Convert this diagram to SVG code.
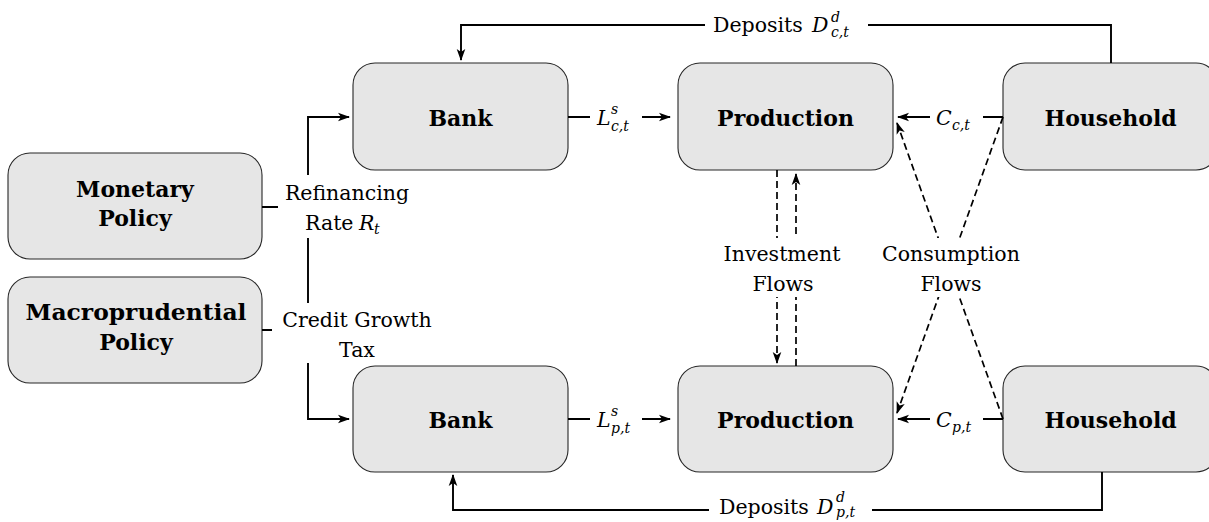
<svg xmlns="http://www.w3.org/2000/svg" width="1209" height="522" viewBox="0 0 1209 522">
<defs>
<marker id="ah" markerWidth="14" markerHeight="12" viewBox="0 -6 14 12" refX="11" refY="0" orient="auto" markerUnits="userSpaceOnUse">
<path d="M0,-4.3 L12,0 L0,4.3 L3,0 Z" fill="#000"/>
</marker>
</defs>
<style>
.box{fill:#e6e6e6;stroke:#262626;stroke-width:1.1}
.bt{font-family:"DejaVu Serif",serif;font-weight:bold;font-size:22px;fill:#000;text-anchor:middle}
.t{font-family:"DejaVu Serif",serif;font-size:20.5px;fill:#000}
.m{text-anchor:middle}
.mi{font-style:italic}
.s{font-size:14px;font-style:italic}
.c{fill:none;stroke:#000;stroke-width:1.9}
.d{fill:none;stroke:#000;stroke-width:1.7;stroke-dasharray:7 4}
.lb{fill:#fff}
</style>
<rect width="1209" height="522" fill="#fff"/>

<g id="monetary">
<rect class="box" x="8" y="153" width="254" height="106" rx="22"/>
<text class="bt" x="135" y="197">Monetary</text>
<text class="bt" x="135" y="226">Policy</text>
</g>
<g id="macroprudential">
<rect class="box" x="8" y="277" width="254" height="106" rx="22"/>
<text class="bt" x="136" y="320" textLength="221" lengthAdjust="spacingAndGlyphs">Macroprudential</text>
<text class="bt" x="136" y="350">Policy</text>
</g>
<g id="bank-c">
<rect class="box" x="353" y="63" width="215" height="107" rx="22"/>
<text class="bt" x="460.5" y="125.5">Bank</text>
</g>
<g id="production-c">
<rect class="box" x="678" y="63" width="215" height="107" rx="22"/>
<text class="bt" x="785.5" y="125.5">Production</text>
</g>
<g id="household-c">
<rect class="box" x="1003" y="63" width="215" height="107" rx="22"/>
<text class="bt" x="1110.5" y="125.5">Household</text>
</g>
<g id="bank-p">
<rect class="box" x="353" y="366" width="215" height="106" rx="22"/>
<text class="bt" x="460.5" y="428">Bank</text>
</g>
<g id="production-p">
<rect class="box" x="678" y="366" width="215" height="106" rx="22"/>
<text class="bt" x="785.5" y="428">Production</text>
</g>
<g id="household-p">
<rect class="box" x="1003" y="366" width="215" height="106" rx="22"/>
<text class="bt" x="1110.5" y="428">Household</text>
</g>

<g id="connectors">
<path class="c" d="M262,207 H308"/>
<path class="c" d="M262,330 H308"/>
<path class="c" d="M308,207 V117 H349" marker-end="url(#ah)"/>
<path class="c" d="M308,207 V419 H349" marker-end="url(#ah)"/>
<path class="c" d="M568,117 H670" marker-end="url(#ah)"/>
<path class="c" d="M568,419 H670" marker-end="url(#ah)"/>
<path class="c" d="M1003,117 H898" marker-end="url(#ah)"/>
<path class="c" d="M1003,419 H898" marker-end="url(#ah)"/>
<path class="c" d="M1111,63 V25 H461 V60" marker-end="url(#ah)"/>
<path class="c" d="M1102,472 V510 H453 V475" marker-end="url(#ah)"/>
<path class="d" d="M777,170 V363" marker-end="url(#ah)"/>
<path class="d" d="M796,366 V174" marker-end="url(#ah)"/>
<path class="d" d="M1003,117 L897,413" marker-end="url(#ah)"/>
<path class="d" d="M1003,419 L897,123" marker-end="url(#ah)"/>

<rect class="lb" x="705" y="11" width="163" height="29"/>
<text class="t"><tspan x="713" y="32">Deposits</tspan><tspan class="mi" x="812" y="32">D</tspan><tspan class="s" x="831" y="22">d</tspan><tspan class="s" x="831" y="37">c,t</tspan></text>
<rect class="lb" x="709" y="494" width="163" height="28"/>
<text class="t"><tspan x="719" y="514">Deposits</tspan><tspan class="mi" x="817" y="514">D</tspan><tspan class="s" x="836" y="502">d</tspan><tspan class="s" x="836" y="517">p,t</tspan></text>

<rect class="lb" x="590" y="100" width="52" height="34"/>
<text class="t"><tspan class="mi" x="597" y="125">L</tspan><tspan class="s" x="611" y="114">s</tspan><tspan class="s" x="611" y="131">c,t</tspan></text>
<rect class="lb" x="590" y="402" width="52" height="34"/>
<text class="t"><tspan class="mi" x="597" y="427">L</tspan><tspan class="s" x="611" y="416">s</tspan><tspan class="s" x="611" y="433">p,t</tspan></text>

<rect class="lb" x="930" y="100" width="53" height="34"/>
<text class="t"><tspan class="mi" x="936" y="124.5">C</tspan><tspan class="s" x="952" y="129.5">c,t</tspan></text>
<rect class="lb" x="930" y="402" width="53" height="34"/>
<text class="t"><tspan class="mi" x="936" y="426.5">C</tspan><tspan class="s" x="952" y="431.5">p,t</tspan></text>

<rect class="lb" x="278" y="175" width="138" height="63"/>
<text class="t m" x="347" y="200">Refinancing</text>
<text class="t"><tspan x="305" y="230">Rate</tspan><tspan class="mi" x="359" y="230">R</tspan><tspan class="s" x="374" y="234">t</tspan></text>

<rect class="lb" x="272" y="303" width="172" height="60"/>
<text class="t m" x="357" y="327">Credit Growth</text>
<text class="t m" x="357" y="357">Tax</text>

<rect class="lb" x="718" y="238" width="128" height="59"/>
<text class="t m" x="782" y="261">Investment</text>
<text class="t m" x="783" y="291">Flows</text>

<rect class="lb" x="875" y="238" width="153" height="59"/>
<text class="t m" x="951" y="261">Consumption</text>
<text class="t m" x="951" y="291">Flows</text>
</g>
</svg>
